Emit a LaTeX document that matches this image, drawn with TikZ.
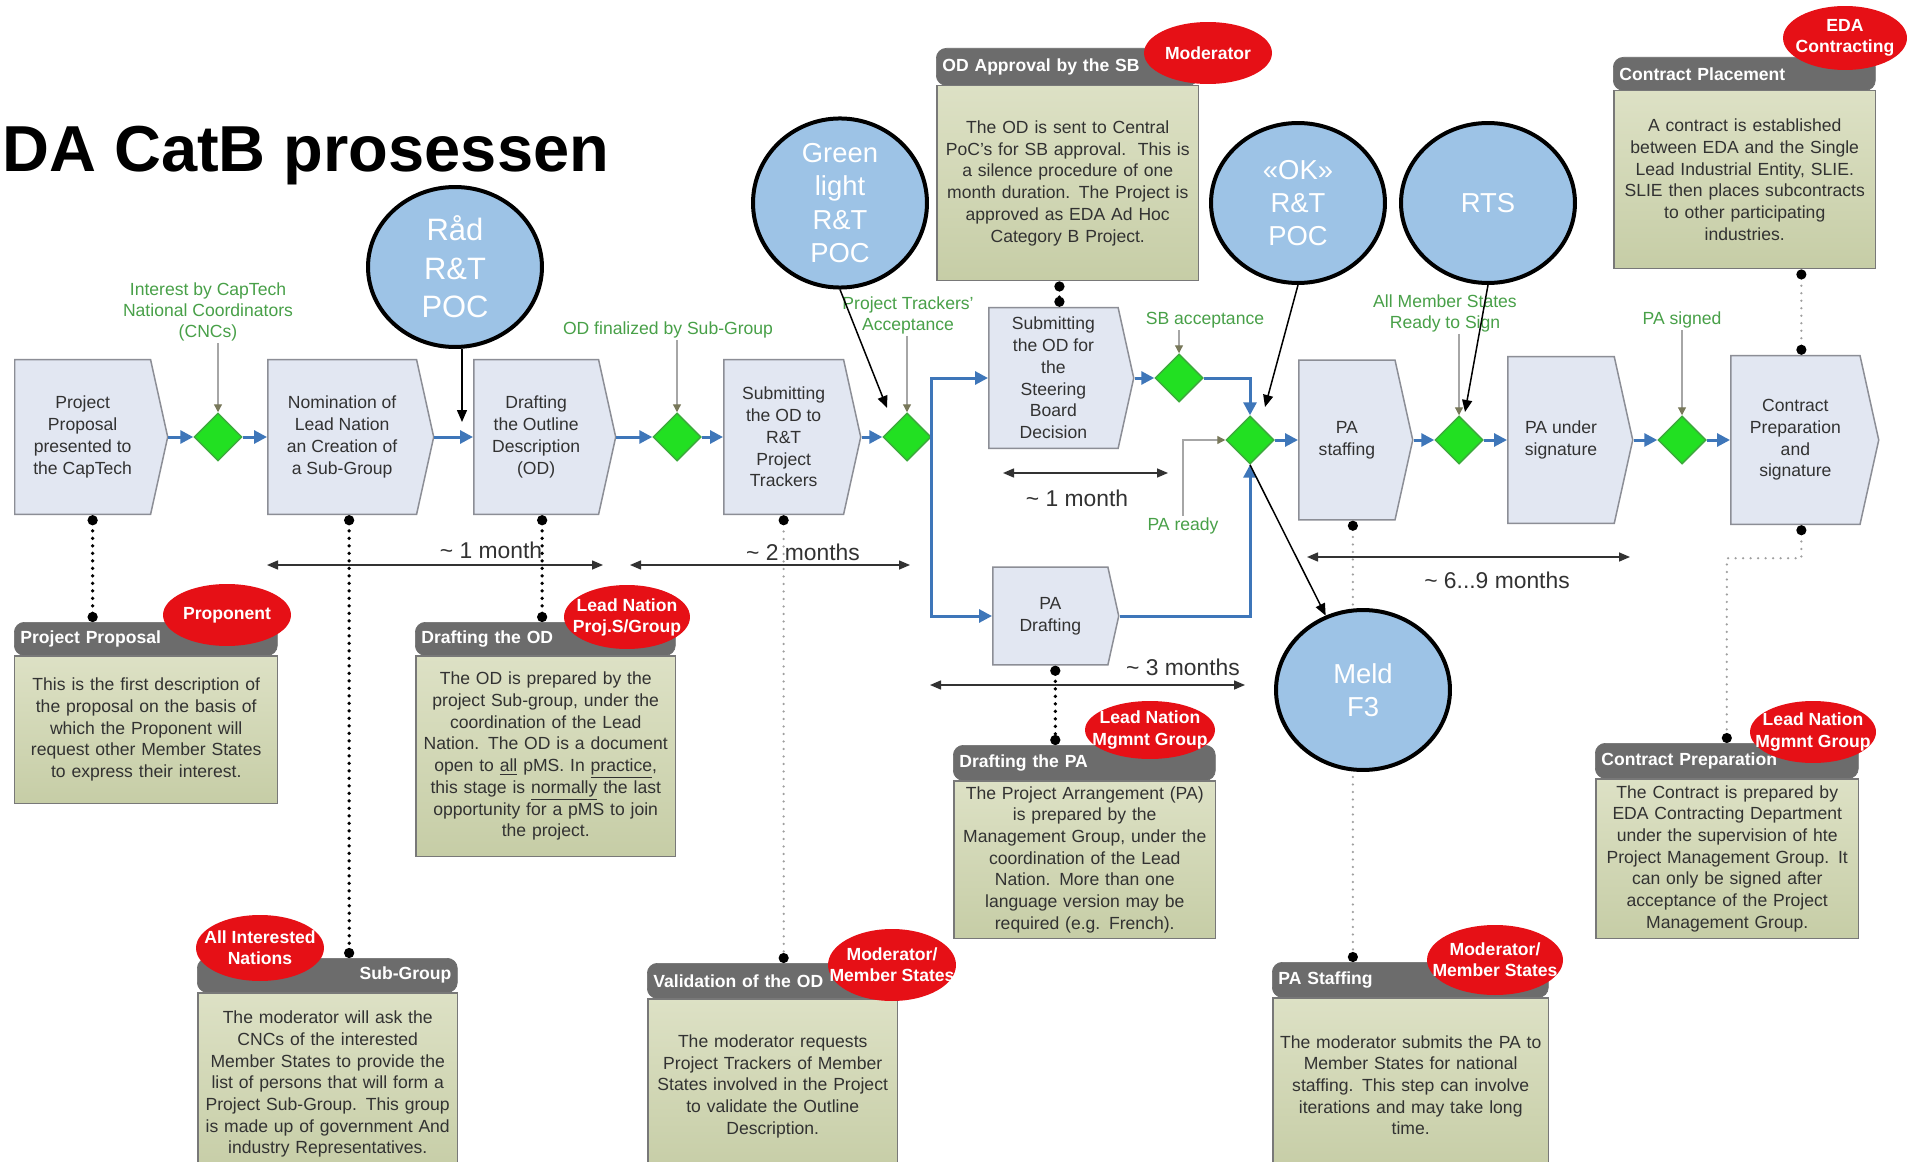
\documentclass[tikz,border=0pt]{standalone}
\usepackage{fontspec}
\setmainfont{Liberation Sans}
\usepackage{xcolor}
\usetikzlibrary{arrows.meta, positioning, shapes.geometric, shapes.symbols}
\def\pxu{0.02cm}

\definecolor{procfill}{RGB}{226,231,242}
\definecolor{procline}{RGB}{140,142,150}
\definecolor{flowblue}{RGB}{62,118,185}
\definecolor{gatefill}{RGB}{34,224,34}
\definecolor{gateline}{RGB}{60,170,60}
\definecolor{evgreen}{RGB}{72,160,72}
\definecolor{evtip}{RGB}{120,120,90}
\definecolor{hdgray}{RGB}{108,108,108}
\definecolor{notetop}{RGB}{221,225,197}
\definecolor{notebot}{RGB}{198,205,166}
\definecolor{noteline}{RGB}{120,120,120}
\definecolor{tagred}{RGB}{230,16,22}
\definecolor{pocblue}{RGB}{157,195,230}
\definecolor{txtgray}{RGB}{50,50,50}

\begin{document}
\begin{tikzpicture}[x=\pxu, y=-\pxu]
    \tikzstyle{proc}=[signal, signal to=east, signal pointer angle=155, draw=procline, fill=procfill, line width=0.03cm, inner sep=0pt, anchor=west, align=center, text=txtgray, font=\fontsize{10}{12.4}\selectfont]
    \tikzstyle{gate}=[diamond, fill=gatefill, draw=gateline, line width=0.03cm, minimum width=0.96cm, minimum height=0.96cm, inner sep=0pt]
    \tikzstyle{flowarrow}=[-{Triangle[length=0.26cm, width=0.26cm]}, draw=flowblue, line width=0.06cm]
    \tikzstyle{event}=[text=evgreen, font=\fontsize{10}{12}\selectfont, align=center, inner sep=1pt]
    \tikzstyle{evline}=[-{Triangle[length=0.16cm, width=0.16cm, color=evtip]}, draw=gray!70, line width=0.025cm]
    \tikzstyle{poc}=[ellipse, fill=pocblue, draw=black, line width=0.08cm, text=white, align=center, inner sep=0pt, minimum width=3.48cm, minimum height=3.2cm, font=\fontsize{15.6}{19}\selectfont]
    \tikzstyle{pocarrow}=[-{Triangle[length=0.24cm, width=0.2cm]}, draw=black, line width=0.03cm]
    \tikzstyle{durspan}=[{Triangle[length=0.22cm, width=0.18cm]}-{Triangle[length=0.22cm, width=0.18cm]}, draw=txtgray, line width=0.03cm]
    \tikzstyle{dur}=[text=txtgray, font=\fontsize{13}{15}\selectfont]
    \tikzstyle{notehead}=[rectangle, rounded corners=0.2cm, fill=hdgray, draw=hdgray, text=white, font=\bfseries\fontsize{10}{12}\selectfont, inner xsep=0.12cm, inner ysep=0pt, align=left, anchor=north west]
    \tikzstyle{notebody}=[rectangle, top color=notetop, bottom color=notebot, draw=noteline, line width=0.03cm, text=txtgray, font=\fontsize{10}{12.35}\selectfont, inner sep=0pt, align=center, anchor=north west]
    \tikzstyle{role}=[ellipse, fill=tagred, text=white, font=\bfseries\fontsize{10}{12}\selectfont, inner xsep=-0.42cm, inner ysep=-0.12cm, align=center]
    \tikzstyle{dotlink}=[draw=black, line width=0.075cm, line cap=round, dash pattern=on 0pt off 0.15cm, {Circle[length=0.2cm, color=black]}-{Circle[length=0.2cm, color=black]}]
    \tikzstyle{dotlinkl}=[dotlink, draw=gray!75, line width=0.05cm]

    \fill[white] (0,0) rectangle (1907,1162);
    \useasboundingbox (0,0) rectangle (1907,1162);

    % Title
    \node[anchor=base west, inner sep=0pt, font=\bfseries\fontsize{37}{40}\selectfont] (title) at (2,172) {DA CatB prosessen};

    % Process steps
    \node[proc, minimum width=3.06cm, minimum height=3.10cm] (P1) at (14,437) {Project\\Proposal\\presented to\\the CapTech};
    \node[proc, minimum width=3.32cm, minimum height=3.10cm] (P2) at (267,437) {Nomination of\\Lead Nation\\an Creation of\\a Sub-Group};
    \node[proc, minimum width=2.84cm, minimum height=3.10cm] (P3) at (473,437) {Drafting\\the Outline\\Description\\(OD)};
    \node[proc, minimum width=2.74cm, minimum height=3.10cm] (P4) at (723,437) {Submitting\\the OD to\\R\&T\\Project\\Trackers};
    \node[proc, minimum width=2.90cm, minimum height=2.82cm] (P5) at (988,378) {Submitting\\the OD for\\the\\Steering\\Board\\Decision};
    \node[proc, minimum width=2.52cm, minimum height=1.96cm] (P6) at (992,616) {PA\\Drafting};
    \node[proc, minimum width=2.28cm, minimum height=3.20cm] (P7) at (1298,440) {PA\\staffing};
    \node[proc, minimum width=2.50cm, minimum height=3.34cm] (P8) at (1507,440) {PA under\\signature};
    \node[proc, minimum width=2.96cm, minimum height=3.38cm] (P9) at (1730,440) {Contract\\Preparation\\and\\signature};

    % Decision points
    \foreach \name/\x/\y in {D1/218/437, D2/677/437, D3/907/437, D4/1179/378, D5/1250/440, D6/1459/440, D7/1682/440}
        \node[gate] (\name) at (\x,\y) {};

    % Main flow
    \foreach \a/\b in {P1/D1, D1/P2, P2/P3, P3/D2, D2/P4, P4/D3, P5/D4, D5/P7, P7/D6, D6/P8, P8/D7, D7/P9}
        \draw[flowarrow] (\a.east) -- (\b.west);
    \draw[flowarrow] (D3.east) |- (P5.west);
    \draw[flowarrow] (D3.east) |- (P6.west);
    \draw[flowarrow] (D4.east) -| (D5.north);
    \draw[flowarrow] (P6.east) -| (D5.south);

    % Events
    \node[event] (E1) at (208,312) {Interest by CapTech\\National Coordinators\\(CNCs)};
    \node[event] (E2) at (668,330) {OD finalized by Sub-Group};
    \node[event] (E3) at (908,315) {Project Trackers'\\Acceptance};
    \node[event] (E4) at (1205,320) {SB acceptance};
    \node[event] (E5) at (1445,313) {All Member States\\Ready to Sign};
    \node[event] (E6) at (1682,320) {PA signed};
    \node[event] (E7) at (1183,526) {PA ready};
    \foreach \e/\d in {E1/D1, E2/D2, E3/D3, E4/D4, E5/D6, E6/D7}
        \draw[evline] (\d.north |- \e.south) -- (\d.north);
    \draw[evline] (E7.north) |- (D5.west);

    % Durations
    \foreach \xa/\xb/\ys/\lx/\ly/\dtext [count=\i] in {267/603/565/491/550/1 month, 630/910/565/803/552/2 months, 1003/1168/473/1077/498/1 month, 930/1245/685/1183/667/3 months}
    {
        \coordinate (sa-\i) at (\xa,\ys);
        \coordinate (sb-\i) at (\xb,\ys);
        \draw[durspan] (sa-\i) -- (sb-\i);
        \node[dur] (dur-\i) at (\lx,\ly) {\textasciitilde\ \dtext};
    }
    \coordinate (sa-5) at (1307,557);
    \coordinate (sb-5) at (1630,557);
    \draw[durspan] (sa-5) -- (sb-5);
    \node[dur] (dur-5) at (1497,580) {\textasciitilde\ 6...9 months};

    % Description boxes
    \node[notehead, text width=5.02cm, minimum height=0.66cm] (PPH) at (14,622) {Project Proposal};
    \node[notebody, text width=5.26cm, minimum height=2.96cm] (PPB) at (14,655) {This is the first description of\\the proposal on the basis of\\which the Proponent will\\request other Member States\\to express their interest.};
    \node[role, minimum width=2.56cm, minimum height=1.24cm] (PPR) at (227,615) {Proponent};

    \node[notehead, text width=4.96cm, minimum height=0.66cm] (DODH) at (415,622) {Drafting the OD};
    \node[notebody, text width=5.20cm, minimum height=4.02cm] (DODB) at (415,655) {The OD is prepared by the\\project Sub-group, under the\\coordination of the Lead\\Nation. The OD is a document\\open to \underline{all} pMS. In \underline{practice},\\this stage is \underline{normally} the last\\opportunity for a pMS to join\\the project.};
    \node[role, minimum width=2.52cm, minimum height=1.28cm] (DODR) at (627,617) {Lead Nation\\Proj.S/Group};

    \node[notehead, text width=4.96cm, minimum height=0.68cm, align=right] (SGH) at (197,958) {Sub-Group};
    \node[notebody, text width=5.20cm, minimum height=3.66cm] (SGB) at (197,992) {The moderator will ask the\\CNCs of the interested\\Member States to provide the\\list of persons that will form a\\Project Sub-Group. This group\\is made up of government And\\industry Representatives.};
    \node[role, minimum width=2.56cm, minimum height=1.32cm] (SGR) at (260,948) {All Interested\\Nations};

    \node[notehead, text width=4.76cm, minimum height=0.70cm] (VALH) at (647,963) {Validation of the OD};
    \node[notebody, text width=5.00cm, minimum height=3.50cm] (VALB) at (647,998) {The moderator requests\\Project Trackers of Member\\States involved in the Project\\to validate the Outline\\Description.};
    \node[role, minimum width=2.56cm, minimum height=1.44cm] (VALR) at (892,965) {Moderator/\\Member States};

    \node[notehead, text width=5.00cm, minimum height=0.74cm] (ODAH) at (936,48) {OD Approval by the SB};
    \node[notebody, text width=5.24cm, minimum height=3.90cm] (ODAB) at (936,85) {The OD is sent to Central\\PoC's for SB approval.\ \ This is\\a silence procedure of one\\month duration. The Project is\\approved as EDA Ad Hoc\\Category B Project.};
    \node[role, minimum width=2.56cm, minimum height=1.24cm] (ODAR) at (1208,53) {Moderator};

    \node[notehead, text width=5.00cm, minimum height=0.70cm] (DPAH) at (953,745) {Drafting the PA};
    \node[notebody, text width=5.24cm, minimum height=3.16cm] (DPAB) at (953,780) {The Project Arrangement (PA)\\is prepared by the\\Management Group, under the\\coordination of the Lead\\Nation. More than one\\language version may be\\required (e.g. French).};
    \node[role, minimum width=2.60cm, minimum height=1.16cm] (DPAR) at (1150,730) {Lead Nation\\Mgmnt Group};

    \node[notehead, text width=5.28cm, minimum height=0.70cm] (PASH) at (1272,962) {PA Staffing};
    \node[notebody, text width=5.52cm, minimum height=3.50cm] (PASB) at (1272,997) {The moderator submits the PA to\\Member States for national\\staffing. This step can involve\\iterations and may take long\\time.};
    \node[role, minimum width=2.72cm, minimum height=1.40cm] (PASR) at (1495,960) {Moderator/\\Member States};

    \node[notehead, text width=5.00cm, minimum height=0.66cm] (CPLH) at (1613,57) {Contract Placement};
    \node[notebody, text width=5.24cm, minimum height=3.56cm] (CPLB) at (1613,90) {A contract is established\\between EDA and the Single\\Lead Industrial Entity, SLIE.\\SLIE then places subcontracts\\to other participating\\industries.};
    \node[role, minimum width=2.48cm, minimum height=1.28cm] (CPLR) at (1845,38) {EDA\\Contracting};

    \node[notehead, text width=5.02cm, minimum height=0.70cm] (CPRH) at (1595,743) {Contract Preparation};
    \node[notebody, text width=5.26cm, minimum height=3.20cm] (CPRB) at (1595,778) {The Contract is prepared by\\EDA Contracting Department\\under the supervision of hte\\Project Management Group. It\\can only be signed after\\acceptance of the Project\\Management Group.};
    \node[role, minimum width=2.52cm, minimum height=1.24cm] (CPRR) at (1813,732) {Lead Nation\\Mgmnt Group};

    % Links from steps to descriptions
    \draw[dotlink] ([xshift=0.2cm]P1.south) -- ([xshift=0.2cm]P1.south |- PPH.north);
    \draw[dotlink] ([xshift=0.14cm]P2.south) -- ([xshift=0.14cm]P2.south |- SGH.north);
    \draw[dotlink] ([xshift=0.12cm]P3.south) -- ([xshift=0.12cm]P3.south |- DODH.north);
    \draw[dotlinkl] (P4.south) -- (P4.south |- VALH.north);
    \draw[dotlink] ([xshift=0.12cm]P5.north |- ODAB.south) -- ([xshift=0.12cm]P5.north);
    \draw[dotlink] ([xshift=0.1cm]P6.south) -- ([xshift=0.1cm]P6.south |- DPAH.north);
    \draw[dotlinkl] ([xshift=0.12cm]P7.south) -- ([xshift=0.12cm]P7.south |- PASH.north);
    \draw[dotlinkl] ([xshift=0.12cm]P9.north |- CPLB.south) -- ([xshift=0.12cm]P9.north);
    \draw[dotlinkl] ([xshift=0.12cm]P9.south) -- ++(0,33) -| (CPRH.north);

    % POC callouts
    \node[poc, font=\fontsize{17.6}{22}\selectfont] (C1) at (455,267) {Råd\\R\&T\\POC};
    \node[poc] (C2) at (840,203) {Green\\light\\R\&T\\POC};
    \node[poc] (C3) at (1298,203) {«OK»\\R\&T\\POC};
    \node[poc] (C4) at (1488,203) {RTS};
    \node[poc] (C5) at (1363,690) {Meld\\F3};
    \coordinate (c1e) at (462,422);
    \coordinate (c2e) at (887,408);
    \coordinate (c3e) at (1265,407);
    \coordinate (c4e) at (1465,412);
    \draw[pocarrow] (c1e |- C1.south) -- (c1e);
    \draw[pocarrow] (C2.south) -- (c2e);
    \draw[pocarrow] (C3.south) -- (c3e);
    \draw[pocarrow] (C4.south) -- (c4e);
    \draw[pocarrow] (D5.south) -- (C5);
\end{tikzpicture}
\end{document}
